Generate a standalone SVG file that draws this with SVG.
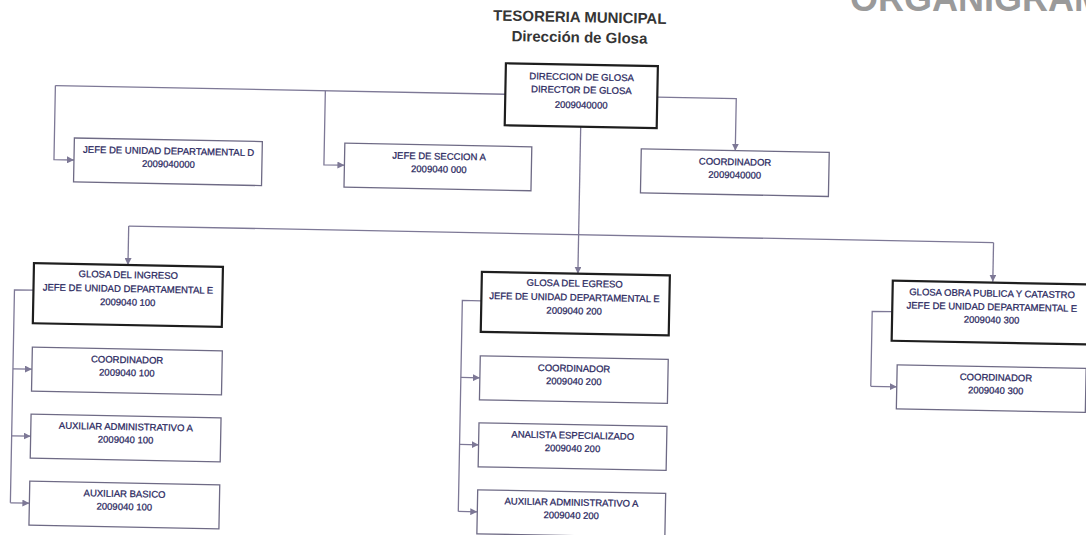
<svg xmlns="http://www.w3.org/2000/svg" width="1086" height="535" viewBox="0 0 1086 535">
<style>
.bg{fill:#ffffff}
.box{fill:#ffffff;stroke:#6e6a85;stroke-width:1.3}
.head{fill:#ffffff;stroke:#1e1e1e;stroke-width:2.2}
.t{font-family:"Liberation Sans",Arial,sans-serif;font-size:9.5px;fill:#2a2860;stroke:#2a2860;stroke-width:0.25;text-anchor:middle}
.title{font-family:"Liberation Sans",Arial,sans-serif;font-size:15px;font-weight:bold;fill:#353535;text-anchor:middle}
.ln{fill:none;stroke:#7d7896;stroke-width:1.3}
.ar{fill:none;stroke:#7d7896;stroke-width:1.3;marker-end:url(#arr)}
.org{font-family:"Liberation Sans",Arial,sans-serif;font-size:36px;font-weight:bold;fill:#9a9a9a}
</style>
<defs>
<marker id="arr" markerUnits="userSpaceOnUse" markerWidth="8" markerHeight="7" refX="7" refY="3.5" orient="auto">
<path d="M0,0 L7,3.5 L0,7 z" fill="#7d7896"/>
</marker>
</defs>
<rect class="bg" x="0" y="0" width="1086" height="535"/>
<text class="org" x="850" y="11">ORGANIGRAMA</text>
<g id="page" transform="rotate(1.1 543 267)">
<g id="titles">
<text class="title" x="575" y="21.5">TESORERIA MUNICIPAL</text>
<text class="title" x="575" y="41.8">Dirección de Glosa</text>
</g>
<g id="connectors">
<path class="ln" d="M502,95 H52"/>
<path class="ar" d="M52,95 V169 H72"/>
<path class="ar" d="M322,95 V169 H342.5"/>
<path class="ar" d="M654,95 H733 V147"/>
<path class="ar" d="M578,126 V273"/>
<path class="ln" d="M128,234 H993"/>
<path class="ar" d="M128,234 V273"/>
<path class="ar" d="M993,234 V273"/>
<path class="ln" d="M34,300 H15 V513"/>
<path class="ar" d="M15,379 H34"/>
<path class="ar" d="M15,446 H34"/>
<path class="ar" d="M15,513 H34"/>
<path class="ln" d="M482,302 H463 V513"/>
<path class="ar" d="M463,379 H482"/>
<path class="ar" d="M463,446 H482"/>
<path class="ar" d="M463,513 H482"/>
<path class="ln" d="M893,305 H873 V380"/>
<path class="ar" d="M873,380 H899"/>
</g>
<g id="n-director">
<rect class="head" x="502" y="64" width="152" height="62"/>
<text class="t" x="578" y="79.5">DIRECCION DE GLOSA</text>
<text class="t" x="578" y="92.5">DIRECTOR DE GLOSA</text>
<text class="t" x="578" y="107.5">2009040000</text>
</g>
<g id="n-jefe-d">
<rect class="box" x="72" y="147" width="188" height="44"/>
<text class="t" x="166.5" y="161.5">JEFE DE UNIDAD DEPARTAMENTAL D</text>
<text class="t" x="166.5" y="174.5">2009040000</text>
</g>
<g id="n-seccion-a">
<rect class="box" x="342.5" y="147" width="187" height="44"/>
<text class="t" x="437" y="161.5">JEFE DE SECCION A</text>
<text class="t" x="437" y="174.5">2009040 000</text>
</g>
<g id="n-coordinador">
<rect class="box" x="639" y="147" width="188" height="44"/>
<text class="t" x="733" y="161.5">COORDINADOR</text>
<text class="t" x="733" y="174.5">2009040000</text>
</g>
<g id="n-ingreso">
<rect class="head" x="34" y="273" width="189" height="60"/>
<text class="t" x="128.5" y="286">GLOSA DEL INGRESO</text>
<text class="t" x="128.5" y="300">JEFE DE UNIDAD DEPARTAMENTAL E</text>
<text class="t" x="128.5" y="313.5">2009040 100</text>
</g>
<g id="n-ingreso-coord">
<rect class="box" x="34" y="357" width="190" height="44"/>
<text class="t" x="129" y="371">COORDINADOR</text>
<text class="t" x="129" y="384">2009040 100</text>
</g>
<g id="n-ingreso-aux-adm">
<rect class="box" x="34" y="424" width="190" height="44"/>
<text class="t" x="129" y="438">AUXILIAR ADMINISTRATIVO A</text>
<text class="t" x="129" y="451">2009040 100</text>
</g>
<g id="n-ingreso-aux-bas">
<rect class="box" x="34" y="491" width="190" height="44"/>
<text class="t" x="129" y="505">AUXILIAR BASICO</text>
<text class="t" x="129" y="518">2009040 100</text>
</g>
<g id="n-egreso">
<rect class="head" x="482" y="273" width="188" height="60"/>
<text class="t" x="575" y="286">GLOSA DEL EGRESO</text>
<text class="t" x="575" y="300">JEFE DE UNIDAD DEPARTAMENTAL E</text>
<text class="t" x="575" y="313.5">2009040 200</text>
</g>
<g id="n-egreso-coord">
<rect class="box" x="482" y="357" width="188" height="44"/>
<text class="t" x="576" y="371">COORDINADOR</text>
<text class="t" x="576" y="384">2009040 200</text>
</g>
<g id="n-egreso-analista">
<rect class="box" x="482" y="424" width="188" height="44"/>
<text class="t" x="576" y="438">ANALISTA ESPECIALIZADO</text>
<text class="t" x="576" y="451">2009040 200</text>
</g>
<g id="n-egreso-aux-adm">
<rect class="box" x="482" y="491" width="188" height="44"/>
<text class="t" x="576" y="505">AUXILIAR ADMINISTRATIVO A</text>
<text class="t" x="576" y="518">2009040 200</text>
</g>
<g id="n-obra">
<rect class="head" x="893" y="274" width="199" height="60"/>
<text class="t" x="992.5" y="288">GLOSA OBRA PUBLICA Y CATASTRO</text>
<text class="t" x="992.5" y="301.5">JEFE DE UNIDAD DEPARTAMENTAL E</text>
<text class="t" x="992.5" y="314.5">2009040 300</text>
</g>
<g id="n-obra-coord">
<rect class="box" x="899" y="358" width="189" height="44"/>
<text class="t" x="998" y="372">COORDINADOR</text>
<text class="t" x="998" y="385">2009040 300</text>
</g>
</g>
</svg>
